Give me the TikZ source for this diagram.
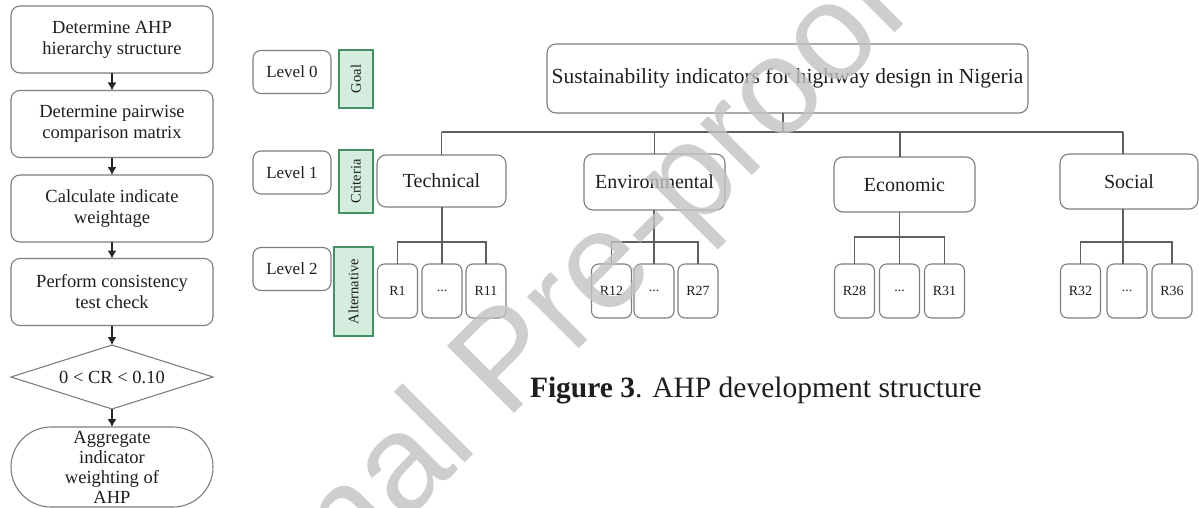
\documentclass[tikz,border=0pt]{standalone}
\usepackage{fontspec}
\setmainfont{Liberation Serif}
\newfontfamily\wmfont{Liberation Sans}
\usetikzlibrary{shapes.geometric,shapes.misc,arrows.meta}
\definecolor{tagfill}{RGB}{213,237,222}
\definecolor{tagedge}{RGB}{70,145,100}
\definecolor{boxedge}{RGB}{125,125,125}
\definecolor{linkcol}{RGB}{95,95,95}
\definecolor{inkcol}{RGB}{30,30,30}
\begin{document}
\begin{tikzpicture}[x=1pt,y=-1pt,
  every node/.style={inner sep=0pt, outer sep=0pt, text=inkcol},
  flowbox/.style={draw=boxedge, line width=1.1pt, rounded corners=9pt,
    minimum width=202pt, minimum height=67pt, align=center,
    font=\fontsize{18.5pt}{21pt}\selectfont},
  decision/.style={draw=boxedge, line width=1.1pt, diamond, aspect=3.2,
    minimum width=202pt, minimum height=64pt, align=center,
    font=\fontsize{18.5pt}{21pt}\selectfont},
  terminal/.style={draw=boxedge, line width=1.1pt, rounded rectangle,
    minimum width=202pt, minimum height=80pt, align=center,
    font=\fontsize{18.5pt}{20pt}\selectfont},
  flowarrow/.style={draw=black!85, line width=1.3pt, -{Latex[length=8pt,width=9pt]}},
  levelbox/.style={draw=boxedge, line width=1.1pt, rounded corners=8pt,
    minimum width=78pt, minimum height=43pt, font=\fontsize{17pt}{20pt}\selectfont},
  tag/.style={draw=tagedge, fill=tagfill, line width=1.6pt, rotate=90,
    font=\fontsize{14.5pt}{14.5pt}\selectfont},
  critbox/.style={draw=boxedge, line width=1.1pt, rounded corners=9pt,
    font=\fontsize{20pt}{23pt}\selectfont},
  rbox/.style={draw=boxedge, line width=1.1pt, rounded corners=7pt,
    minimum width=40pt, minimum height=54pt, font=\fontsize{14pt}{14pt}\selectfont},
  link/.style={draw=linkcol, line width=1.3pt}
]
\useasboundingbox (0,0) rectangle (1199,508);

% ---- procedure flowchart ----
\node[flowbox] (s1) at (112,39.5) {Determine AHP\\hierarchy structure};
\node[flowbox] (s2) at (112,124) {Determine pairwise\\comparison matrix};
\node[flowbox] (s3) at (112,208.5) {Calculate indicate\\weightage};
\node[flowbox] (s4) at (112,292) {Perform consistency\\test check};
\node[decision] (s5) at (112,377) {0 < CR < 0.10};
\node[terminal] (s6) at (112,467) {Aggregate\\indicator\\weighting of\\AHP};
\foreach \a/\b in {s1/s2,s2/s3,s3/s4,s4/s5,s5/s6}
  \draw[flowarrow] (\a) -- (\b);

% ---- level labels ----
\node[levelbox] (l0) at (292,72) {Level 0};
\node[levelbox] (l1) at (292,172.5) {Level 1};
\node[levelbox] (l2) at (292,269) {Level 2};
\node[tag, minimum width=58pt, minimum height=34pt] (tg) at (356,79) {Goal};
\node[tag, minimum width=63pt, minimum height=34pt] (tc) at (356,181.5) {Criteria};
\node[tag, minimum width=89pt, minimum height=39pt] (ta) at (353.5,291.5) {Alternative};

% ---- hierarchy ----
\node[critbox, minimum width=481pt, minimum height=69pt, font=\fontsize{21.5pt}{24pt}\selectfont]
  (goal) at (787.5,78.5) {Sustainability indicators for highway design in Nigeria};
\node[critbox, minimum width=129pt, minimum height=52pt] (c1) at (441.5,181) {Technical};
\node[critbox, minimum width=141pt, minimum height=56pt] (c2) at (654.5,182) {Environmental};
\node[critbox, minimum width=141pt, minimum height=55pt] (c3) at (904.5,184.5) {Economic};
\node[critbox, minimum width=138pt, minimum height=55pt] (c4) at (1129,181.5) {Social};

\node[rbox] (r1a) at (397.5,291) {R1};
\node[rbox] (r1b) at (442,291) {...};
\node[rbox] (r1c) at (486,291) {R11};
\node[rbox] (r2a) at (611.5,291) {R12};
\node[rbox] (r2b) at (654,291) {...};
\node[rbox] (r2c) at (698,291) {R27};
\node[rbox] (r3a) at (854.5,291) {R28};
\node[rbox] (r3b) at (899.5,291) {...};
\node[rbox] (r3c) at (944.5,291) {R31};
\node[rbox] (r4a) at (1080.5,291) {R32};
\node[rbox] (r4b) at (1127,291) {...};
\node[rbox] (r4c) at (1172,291) {R36};

\coordinate (bus) at (0,132);
\draw[link] ([xshift=-4.5pt]goal.south) -- ([xshift=-4.5pt]goal.south |- bus);
\draw[link] (c1.north |- bus) -- ([xshift=-6pt]c4.north |- bus);
\draw[link] (c1.north) -- (c1.north |- bus);
\draw[link] (c2.north) -- (c2.north |- bus);
\draw[link] ([xshift=-4.5pt]c3.north) -- ([xshift=-4.5pt]c3.north |- bus);
\draw[link] ([xshift=-6pt]c4.north) -- ([xshift=-6pt]c4.north |- bus);

\draw[link] (r1b.north |- c1.south) -- (r1b.north);
\draw[link] (r1a.north) -- ++(0,-22) -| (r1c.north);
\draw[link] (r2b.north |- c2.south) -- (r2b.north);
\draw[link] (r2a.north) -- ++(0,-22) -| (r2c.north);
\draw[link] (r3b.north |- c3.south) -- (r3b.north);
\draw[link] (r3a.north) -- ++(0,-27) -| (r3c.north);
\draw[link] ([xshift=-4pt]r4b.north |- c4.south) -- ([xshift=-4pt]r4b.north);
\draw[link] (r4a.north) -- ++(0,-22) -| (r4c.north);

% ---- caption ----
\node[anchor=base west, font=\fontsize{29.5pt}{32pt}\selectfont] (cap) at (530,397)
  {\textbf{Figure 3}. AHP development structure};

% ---- watermark ----
\begin{scope}
  \clip (0,0) rectangle (1199,508);
  \node[anchor=base west, rotate=45, font=\wmfont\fontsize{138pt}{138pt}\selectfont,
    text=black!24, text opacity=0.8] (wm) at (160,768) {Journal Pre-proof};
\end{scope}
\end{tikzpicture}
\end{document}
